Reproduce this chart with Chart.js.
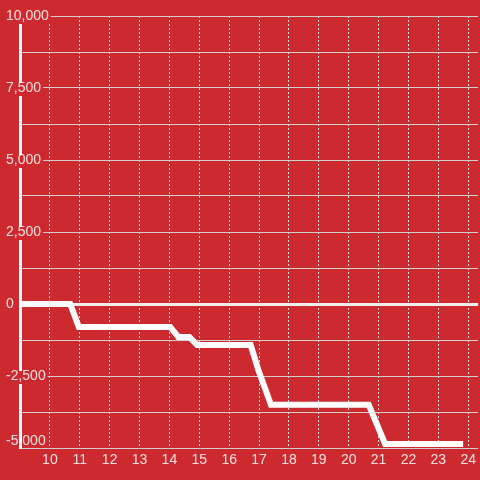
<!DOCTYPE html>
<html>
<head>
<meta charset="utf-8">
<script src="https://cdn.jsdelivr.net/npm/chart.js@4"></script>
<style>
html,body{margin:0;padding:0;background:#cc2a2f;}
canvas{display:block;}
</style>
</head>
<body>
<canvas id="c" width="480" height="480"></canvas>
<script>
// Data
const hours   = [9, 10.68, 10.97, 14.03, 14.3, 14.67, 14.93, 16.72, 16.98, 17.4, 20.67, 21.22, 23.73];
const balance = [0, 0, -800, -800, -1150, -1150, -1425, -1425, -2300, -3500, -3500, -4860, -4860];
const xTickValues = [10, 11, 12, 13, 14, 15, 16, 17, 18, 19, 20, 21, 22, 23, 24];
const yTickValues = [-5000, -3750, -2500, -1250, 0, 1250, 2500, 3750, 5000, 6250, 7500, 8750, 10000];
const yLabelStep = 2500;
const yMin = -5000, yMax = 10000;

const BG = '#cc2a2f';
const TEXT = 'rgba(255,255,255,0.85)';
const FONT = { family: "'Liberation Sans', Arial, sans-serif", size: 14 };

new Chart(document.getElementById('c'), {
  type: 'line',
  data: {
    datasets: [{
      data: hours.map((h, i) => ({ x: h, y: balance[i] })),
      borderColor: '#ffffff',
      borderWidth: 6,
      borderCapStyle: 'square',
      borderJoinStyle: 'miter',
      pointRadius: 0,
      tension: 0,
      fill: false
    }]
  },
  options: {
    responsive: false,
    animation: false,
    devicePixelRatio: 1,
    layout: { padding: { top: 16, left: 0, right: 0, bottom: 0 } },
    plugins: { legend: { display: false }, tooltip: { enabled: false } },
    scales: {
      x: {
        type: 'linear',
        min: 9,
        max: 24.333,
        afterBuildTicks: s => { s.ticks = xTickValues.map(v => ({ value: v })); },
        afterFit: s => { s.height = 32; },
        grid: { color: '#dedede', lineWidth: 1, drawTicks: false },
        border: { display: false, dash: [2, 2] },
        ticks: { color: TEXT, font: FONT, padding: 4, maxRotation: 0, autoSkip: false,
                 callback: v => String(v) }
      },
      y: {
        type: 'linear',
        min: yMin,
        max: yMax,
        afterBuildTicks: s => { s.ticks = yTickValues.map(v => ({ value: v })); },
        afterFit: s => { s.width = 20; },
        grid: {
          drawTicks: false,
          color: ctx => ctx.tick && ctx.tick.value === 0 ? '#eeeeee' : '#cfcfcf',
          lineWidth: ctx => ctx.tick && ctx.tick.value === 0 ? 3 : 1
        },
        border: { display: true, color: '#ffffff', width: 3 },
        ticks: {
          color: TEXT,
          font: { family: FONT.family, size: 14, lineHeight: 1 },
          mirror: true,
          crossAlign: 'near',
          padding: -14,
          autoSkip: false,
          showLabelBackdrop: true,
          backdropColor: ctx => (ctx.tick && ctx.tick.value % yLabelStep === 0 && ctx.tick.value !== yMin) ? BG : 'rgba(0,0,0,0)',
          backdropPadding: { top: -2, bottom: 1, left: 2, right: 2 },
          callback: v => {
            if (v % yLabelStep !== 0) return '';
            const s = v.toLocaleString('en-US');
            return v === yMin ? [s, ''] : s;
          }
        }
      }
    }
  }
});
</script>
</body>
</html>
